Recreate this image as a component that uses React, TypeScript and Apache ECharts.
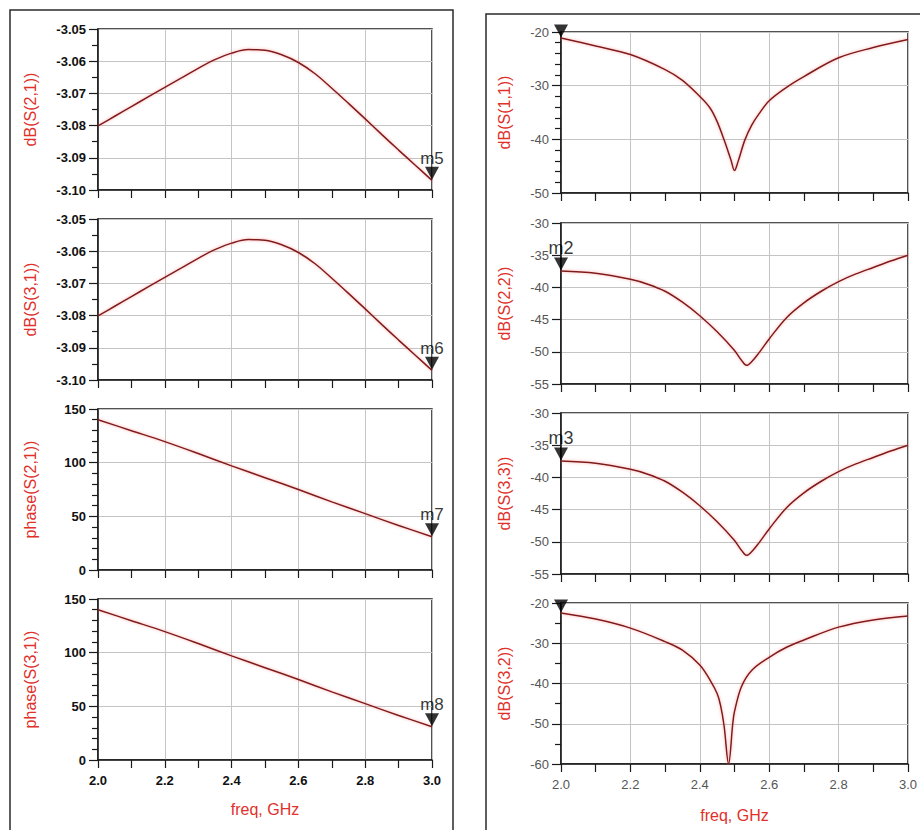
import React, { useEffect, useRef } from "react";
import * as echarts from "echarts";

// ---------- data ----------
const freqA = [2.0, 2.05, 2.1, 2.15, 2.2, 2.25, 2.3, 2.35, 2.4, 2.45, 2.5, 2.55, 2.6, 2.65, 2.7, 2.75, 2.8, 2.85, 2.9, 2.95, 3.0];
const dbS21 = [-3.0801, -3.0771, -3.0741, -3.0711, -3.0681, -3.0652, -3.0622, -3.0595, -3.0575, -3.0564, -3.0566, -3.058, -3.0604, -3.0639, -3.0684, -3.0731, -3.0779, -3.0828, -3.0876, -3.0923, -3.097];
const dbS31 = [-3.0801, -3.0771, -3.0741, -3.0711, -3.0681, -3.0652, -3.0622, -3.0595, -3.0575, -3.0564, -3.0566, -3.058, -3.0604, -3.0639, -3.0684, -3.0731, -3.0779, -3.0828, -3.0876, -3.0923, -3.097];

const freqP = [2.0, 2.1, 2.2, 2.3, 2.4, 2.5, 2.6, 2.7, 2.8, 2.9, 3.0];
const phaseS21 = [140, 129.8, 119.6, 108.5, 97, 86, 75, 63.5, 52.5, 41.5, 31];
const phaseS31 = [140, 129.8, 119.6, 108.5, 97, 86, 75, 63.5, 52.5, 41.5, 31];

const freqS11 = [2.0, 2.1, 2.2, 2.3, 2.35, 2.4, 2.43, 2.45, 2.47, 2.49, 2.5, 2.51, 2.53, 2.55, 2.57, 2.6, 2.65, 2.7, 2.8, 2.9, 3.0];
const dbS11 = [-21.1, -22.6, -24.2, -27.0, -29.0, -32.0, -34.2, -36.7, -40.1, -43.9, -45.8, -44.2, -40.1, -37.3, -35.3, -32.8, -30.3, -28.3, -24.8, -22.9, -21.4];

const freqS22 = [2.0, 2.1, 2.2, 2.25, 2.3, 2.35, 2.4, 2.45, 2.5, 2.52, 2.535, 2.55, 2.57, 2.6, 2.65, 2.7, 2.75, 2.8, 2.85, 2.9, 2.95, 3.0];
const dbS22 = [-37.45, -37.8, -38.75, -39.5, -40.6, -42.3, -44.4, -46.9, -49.8, -51.3, -52.1, -51.5, -50.2, -48.0, -44.7, -42.4, -40.6, -39.1, -37.9, -36.9, -35.9, -35.0];
const dbS33 = [-37.45, -37.8, -38.75, -39.5, -40.6, -42.3, -44.4, -46.9, -49.8, -51.3, -52.1, -51.5, -50.2, -48.0, -44.7, -42.4, -40.6, -39.1, -37.9, -36.9, -35.9, -35.0];

const freqS32 = [2.0, 2.1, 2.2, 2.3, 2.35, 2.4, 2.43, 2.45, 2.46, 2.47, 2.483, 2.495, 2.5, 2.52, 2.55, 2.6, 2.65, 2.7, 2.8, 2.9, 3.0];
const dbS32 = [-22.5, -24.0, -26.25, -29.6, -31.7, -35.4, -39.2, -42.5, -45.5, -50.5, -60.0, -50.0, -47.0, -40.8, -36.7, -33.5, -31.0, -29.2, -26.0, -24.2, -23.2];

const xTicks = ["2.0", "2.2", "2.4", "2.6", "2.8", "3.0"];

// ---------- component ----------
const FONT = "'Liberation Sans', Arial, sans-serif";
const LINE = "#7d1b1b";

type Panel = {
  name: string;
  freq: number[];
  vals: number[];
  min: number;
  max: number;
  interval: number;
  minorSplit: number;
  decimals: number;
  left: boolean;
  top: number;
  bottomPlot: boolean;
  marker?: { label: string; idx: number };
};

export default function App() {
  const ref = useRef<HTMLDivElement>(null);

  useEffect(() => {
    if (!ref.current) return;
    const chart = echarts.init(ref.current, undefined, { renderer: "svg" });

    const panels: Panel[] = [
      { name: "dB(S(2,1))", freq: freqA, vals: dbS21, min: -3.1, max: -3.05, interval: 0.01, minorSplit: 2, decimals: 2, left: true, top: 29, bottomPlot: false, marker: { label: "m5", idx: freqA.length - 1 } },
      { name: "dB(S(3,1))", freq: freqA, vals: dbS31, min: -3.1, max: -3.05, interval: 0.01, minorSplit: 2, decimals: 2, left: true, top: 219, bottomPlot: false, marker: { label: "m6", idx: freqA.length - 1 } },
      { name: "phase(S(2,1))", freq: freqP, vals: phaseS21, min: 0, max: 150, interval: 50, minorSplit: 5, decimals: 0, left: true, top: 409, bottomPlot: false, marker: { label: "m7", idx: freqP.length - 1 } },
      { name: "phase(S(3,1))", freq: freqP, vals: phaseS31, min: 0, max: 150, interval: 50, minorSplit: 5, decimals: 0, left: true, top: 599, bottomPlot: true, marker: { label: "m8", idx: freqP.length - 1 } },
      { name: "dB(S(1,1))", freq: freqS11, vals: dbS11, min: -50, max: -20, interval: 10, minorSplit: 5, decimals: 0, left: false, top: 32, bottomPlot: false, marker: { label: "", idx: 0 } },
      { name: "dB(S(2,2))", freq: freqS22, vals: dbS22, min: -55, max: -30, interval: 5, minorSplit: 0, decimals: 0, left: false, top: 223, bottomPlot: false, marker: { label: "m2", idx: 0 } },
      { name: "dB(S(3,3))", freq: freqS22, vals: dbS33, min: -55, max: -30, interval: 5, minorSplit: 0, decimals: 0, left: false, top: 413, bottomPlot: false, marker: { label: "m3", idx: 0 } },
      { name: "dB(S(3,2))", freq: freqS32, vals: dbS32, min: -60, max: -20, interval: 10, minorSplit: 2, decimals: 0, left: false, top: 603, bottomPlot: true, marker: { label: "", idx: 0 } },
    ];

    const grid: any[] = [];
    const xAxis: any[] = [];
    const yAxis: any[] = [];
    const series: any[] = [];

    panels.forEach((p, i) => {
      const gl = p.left ? 98 : 561;
      const gw = p.left ? 334 : 347;
      grid.push({
        left: gl,
        top: p.top,
        width: gw,
        height: 161,
        show: true,
        borderColor: "#1a1a1a",
        borderWidth: 1.5,
        backgroundColor: "#fff",
      });
      const labelStyle = p.left
        ? { color: "#111", fontWeight: "bold", fontSize: 13, fontFamily: FONT }
        : { color: "#555", fontWeight: "normal", fontSize: 13, fontFamily: FONT };
      xAxis.push({
        type: "value",
        gridIndex: i,
        min: 2,
        max: 3,
        interval: 0.2,
        name: p.bottomPlot ? "freq, GHz" : "",
        nameLocation: "middle",
        nameGap: p.left ? 41 : 43,
        nameTextStyle: { color: "#e0302a", fontSize: 16, fontFamily: FONT },
        axisLine: { show: true, onZero: false, lineStyle: { color: "#1a1a1a", width: 1.5 } },
        axisTick: { show: true, inside: false, length: 8, lineStyle: { color: "#1a1a1a", width: 1.2 } },
        minorTick: { show: true, splitNumber: 2, length: 8, lineStyle: { color: "#1a1a1a", width: 1.2 } },
        splitLine: { show: true, lineStyle: { color: "#c4c4c4", width: 1 } },
        axisLabel: {
          show: p.bottomPlot,
          margin: 14,
          formatter: (v: number) => {
            const s = v.toFixed(1);
            return xTicks.includes(s) ? s : "";
          },
          ...labelStyle,
        },
      });
      yAxis.push({
        type: "value",
        gridIndex: i,
        min: p.min,
        max: p.max,
        interval: p.interval,
        name: p.name,
        nameLocation: "middle",
        nameRotate: 90,
        nameGap: p.left ? 60 : 49,
        nameTextStyle: { color: "#e0302a", fontSize: 16, fontFamily: FONT },
        axisLine: { show: true, onZero: false, lineStyle: { color: "#1a1a1a", width: 1.5 } },
        axisTick: { show: true, inside: false, length: 9, lineStyle: { color: "#1a1a1a", width: 1.2 } },
        minorTick: { show: p.minorSplit > 0, splitNumber: p.minorSplit || 2, length: 6, lineStyle: { color: "#1a1a1a", width: 1.2 } },
        splitLine: { show: true, lineStyle: { color: "#c4c4c4", width: 1 } },
        axisLabel: {
          show: true,
          margin: 12,
          formatter: (v: number) => v.toFixed(p.decimals),
          ...labelStyle,
        },
      });
      series.push({
        type: "line",
        xAxisIndex: i,
        yAxisIndex: i,
        data: p.freq.map((f, k) => [f, p.vals[k]]),
        showSymbol: false,
        symbol: "none",
        smooth: 0.35,
        lineStyle: { color: LINE, width: 1.5, shadowColor: "rgba(255,90,90,0.55)", shadowBlur: 3 },
        silent: true,
        z: 3,
      });
      if (p.marker) {
        const m = p.marker;
        series.push({
          type: "scatter",
          xAxisIndex: i,
          yAxisIndex: i,
          clip: false,
          data: [{ value: [p.freq[m.idx], p.vals[m.idx]], name: m.label }],
          symbol: "triangle",
          symbolRotate: 180,
          symbolSize: [14, 13],
          symbolOffset: [0, -7],
          itemStyle: { color: "#000" },
          label: {
            show: m.label !== "",
            position: "top",
            distance: 0,
            formatter: "{b}",
            color: "#000",
            fontSize: p.left ? 17 : 18,
            fontFamily: FONT,
          },
          z: 5,
        });
      }
    });

    chart.setOption({
      animation: false,
      backgroundColor: "#fff",
      grid,
      xAxis,
      yAxis,
      series,
      graphic: [
        {
          type: "rect",
          shape: { x: 10, y: 10, width: 443, height: 830 },
          style: { fill: "none", stroke: "#2a2a2a", lineWidth: 1.5 },
          z: 0,
          silent: true,
        },
        {
          type: "rect",
          shape: { x: 486, y: 14, width: 440, height: 830 },
          style: { fill: "none", stroke: "#2a2a2a", lineWidth: 1.5 },
          z: 0,
          silent: true,
        },
      ],
    });

    return () => chart.dispose();
  }, []);

  return (
    <div
      ref={ref}
      style={{ position: "fixed", left: 0, top: 0, width: 920, height: 830, background: "#fff" }}
    />
  );
}
